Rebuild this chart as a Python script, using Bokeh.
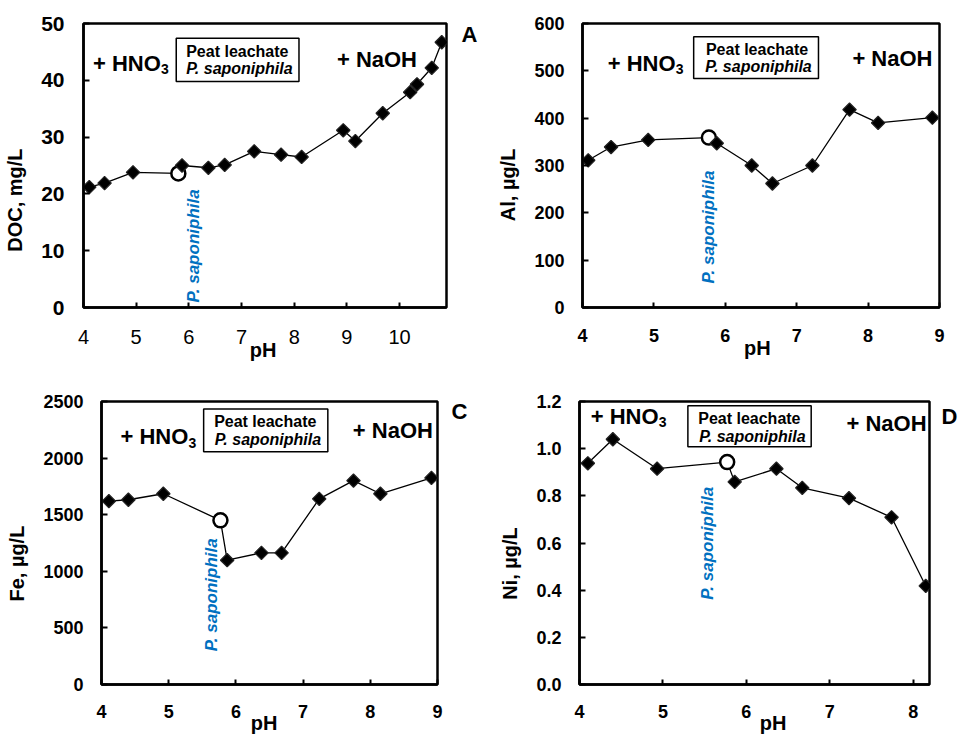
import numpy as np
from bokeh.plotting import figure
from bokeh.models import (Range1d, Label, BoxAnnotation, PrintfTickFormatter,
                          LinearAxis, FixedTicker)
from bokeh.layouts import column, row
from bokeh.embed import file_html
from bokeh.resources import INLINE

FONT = "Liberation Sans"
BLUE = "#0070C0"

# ---------------- data ----------------
# Panel A: DOC, mg/L
ph_doc = [4.11, 4.40, 4.94, 5.87, 6.37, 6.68, 7.24, 7.75, 8.14, 8.93, 9.16, 9.68, 10.20, 10.33, 10.61, 10.80]
doc = [21.2, 21.9, 23.8, 25.0, 24.6, 25.1, 27.5, 26.9, 26.5, 31.2, 29.3, 34.2, 37.9, 39.3, 42.2, 46.7]
ph_doc_open = [5.80]
doc_open = [23.6]

# Panel B: Al, ug/L
ph_al = [4.08, 4.40, 4.92, 5.88, 6.37, 6.66, 7.22, 7.74, 8.14, 8.90]
al = [311, 339, 354, 347, 300, 262, 300, 418, 390, 401]
ph_al_open = [5.77]
al_open = [359]

# Panel C: Fe, ug/L
ph_fe = [4.11, 4.40, 4.92, 5.87, 6.38, 6.68, 7.24, 7.75, 8.15, 8.91]
fe = [1620, 1632, 1685, 1098, 1163, 1163, 1640, 1801, 1685, 1825]
ph_fe_open = [5.77]
fe_open = [1450]

# Panel D: Ni, ug/L
ph_ni = [4.10, 4.40, 4.93, 5.86, 6.36, 6.67, 7.23, 7.74, 8.15]
ni = [0.938, 1.040, 0.915, 0.859, 0.915, 0.834, 0.790, 0.709, 0.418]
ph_ni_open = [5.77]
ni_open = [0.943]

# axis ticks
xticks_a = [4, 5, 6, 7, 8, 9, 10]
yticks_a = [0, 10, 20, 30, 40, 50]
xticks_b = [4, 5, 6, 7, 8, 9]
yticks_b = [0, 100, 200, 300, 400, 500, 600]
xticks_c = [4, 5, 6, 7, 8, 9]
yticks_c = [0, 500, 1000, 1500, 2000, 2500]
xticks_d = [4, 5, 6, 7, 8]
yticks_d = [0.0, 0.2, 0.4, 0.6, 0.8, 1.0, 1.2]

ylabel_a = "DOC, mg/L"
ylabel_b = "Al, µg/L"
ylabel_c = "Fe, µg/L"
ylabel_d = "Ni, µg/L"
xlabel = "pH"
acid_text = "+ HNO"
acid_sub = "3"
base_text = "+ NaOH"
box_line1 = "Peat leachate"
box_line2 = "P. saponiphila"
marker_text = "P. saponiphila"


def title_axis(tick, text, orientation, standoff, size):
    """A tick-less axis whose single tick label carries an axis title at a chosen place."""
    return LinearAxis(ticker=FixedTicker(ticks=[tick]),
                      major_label_overrides={tick: text},
                      major_label_orientation=orientation,
                      axis_line_color=None, major_tick_line_color=None,
                      minor_tick_line_color=None, major_tick_in=0, major_tick_out=0,
                      major_label_standoff=standoff, major_label_text_font=FONT,
                      major_label_text_font_style="bold", major_label_text_font_size=size,
                      major_label_text_color="black")


def make_panel(ph, vals, ph_o, vals_o, xr, yr, xticks, yticks, ylabel, ylabel_mid,
               xlabel_mid, borders, ytick_size, xtick_size, xtick_style, x_std, y_std,
               xl_std, yfmt=None, letter=None):
    left, right, top, bottom = borders
    p = figure(width=480, height=368, x_range=Range1d(*xr), y_range=Range1d(*yr),
               output_backend="svg", toolbar_location=None,
               min_border_left=left, min_border_right=right,
               min_border_top=top, min_border_bottom=bottom,
               background_fill_color="white", border_fill_color="white")
    p.grid.visible = False
    p.outline_line_color = "black"
    p.outline_line_width = 2.5

    for ax in (p.xaxis[0], p.yaxis[0]):
        ax.axis_line_width = 2.5
        ax.axis_line_color = "black"
        ax.major_tick_line_width = 2
        ax.major_tick_line_color = "black"
        ax.minor_tick_line_color = None
        ax.major_tick_out = 0
        ax.major_label_text_font = FONT
        ax.major_label_text_color = "black"

    xa = p.xaxis[0]
    xa.ticker = xticks
    xa.major_tick_in = 5
    xa.major_label_text_font_size = xtick_size
    xa.major_label_text_font_style = xtick_style
    xa.major_label_standoff = x_std

    ya = p.yaxis[0]
    ya.ticker = yticks
    ya.major_tick_in = 6
    ya.major_label_text_font_size = ytick_size
    ya.major_label_text_font_style = "bold"
    ya.major_label_standoff = y_std
    if yfmt:
        ya.formatter = PrintfTickFormatter(format=yfmt)

    # axis titles, placed where the original figure has them
    p.add_layout(title_axis(ylabel_mid, ylabel, "vertical", 12, "20px"), "left")
    p.add_layout(title_axis(xlabel_mid, xlabel, "horizontal", xl_std, "20px"), "below")

    # panel letter on the right-hand side
    if letter:
        p.add_layout(title_axis(letter[1], letter[0], "horizontal", letter[2], "22px"), "right")

    xs = np.array(list(ph) + list(ph_o))
    ys = np.array(list(vals) + list(vals_o))
    order = np.argsort(xs)
    p.line(xs[order], ys[order], line_color="black", line_width=1.3)
    p.scatter(ph_o, vals_o, marker="circle", size=14, fill_color="white",
              line_color="black", line_width=2.5)
    p.scatter(ph, vals, marker="square", angle=np.pi / 4, size=9.5,
              fill_color="black", line_color="#222222", line_width=1.2)
    return p


def annotate(p, acid_xy, sub_y, base_xy, box, l1_xy, l2_xy, blue_xy):
    common = dict(text_font=FONT, text_color="black", text_baseline="middle")
    p.add_layout(Label(x=acid_xy[0], y=acid_xy[1], text=acid_text, text_align="left",
                       text_font_size="22px", text_font_style="bold", **common))
    p.add_layout(Label(x=acid_xy[0], y=sub_y, x_offset=68, text=acid_sub, text_align="left",
                       text_font_size="14px", text_font_style="bold", **common))
    p.add_layout(Label(x=base_xy[0], y=base_xy[1], text=base_text, text_align="left",
                       text_font_size="22px", text_font_style="bold", **common))
    p.add_layout(BoxAnnotation(left=box[0], right=box[1], top=box[2], bottom=box[3],
                               fill_color="white", fill_alpha=1.0,
                               line_color="black", line_width=1.5, line_alpha=1.0))
    p.add_layout(Label(x=l1_xy[0], y=l1_xy[1], text=box_line1, text_align="center",
                       text_font_size="16px", text_font_style="bold", **common))
    p.add_layout(Label(x=l2_xy[0], y=l2_xy[1], text=box_line2, text_align="center",
                       text_font_size="16px", text_font_style="bold italic", **common))
    p.add_layout(Label(x=blue_xy[0], y=blue_xy[1], text=marker_text, angle=np.pi / 2,
                       text_align="left", text_baseline="middle", text_font=FONT,
                       text_color=BLUE, text_font_size="17px", text_font_style="bold italic"))


pA = make_panel(ph_doc, doc, ph_doc_open, doc_open, (4, 10.89), (0, 50), xticks_a, yticks_a,
                ylabel_a, 18.9, 7.41, (83, 33, 23, 61), "21px", "20px", "normal", 22, 19, -8,
                letter=("A", 48, 15))
annotate(pA, (4.18, 43.0), 42.0, (8.81, 43.7), (5.76, 8.09, 47.4, 39.8),
         (6.92, 45.1), (6.96, 42.1), (6.085, 0.9))

pB = make_panel(ph_al, al, ph_al_open, al_open, (4, 9), (0, 600), xticks_b, yticks_b,
                ylabel_b, 259, 6.45, (102, 21, 23, 61), "18px", "18px", "bold", 21, 18, -8)
annotate(pB, (4.354, 516), 503.8, (7.78, 527), (5.557, 7.305, 572, 484),
         (6.445, 546), (6.466, 509), (5.762, 50.6))

pC = make_panel(ph_fe, fe, ph_fe_open, fe_open, (4, 9), (0, 2500), xticks_c, yticks_c,
                ylabel_c, 1068, 6.42, (101, 43, 33, 51), "18px", "18px", "bold", 20, 18, -9,
                letter=("C", 2410, 14))
annotate(pC, (4.283, 2190), 2137, (7.74, 2248), (5.520, 7.368, 2434, 2056),
         (6.437, 2321), (6.477, 2160), (5.639, 293))

pD = make_panel(ph_ni, ni, ph_ni_open, ni_open, (4, 8.195), (0, 1.2), xticks_d, yticks_d,
                ylabel_d, 0.513, 6.32, (99, 29, 30, 50), "18px", "18px", "bold", 20, 18, -9,
                yfmt="%.1f", letter=("D", 1.137, 12))
annotate(pD, (4.135, 1.137), 1.112, (7.20, 1.106), (5.299, 6.777, 1.182, 1.008),
         (6.036, 1.130), (6.072, 1.050), (5.538, 0.359))

layout = column(row(pA, pB), row(pC, pD))
open("out.html", "w").write(file_html(layout, INLINE))
